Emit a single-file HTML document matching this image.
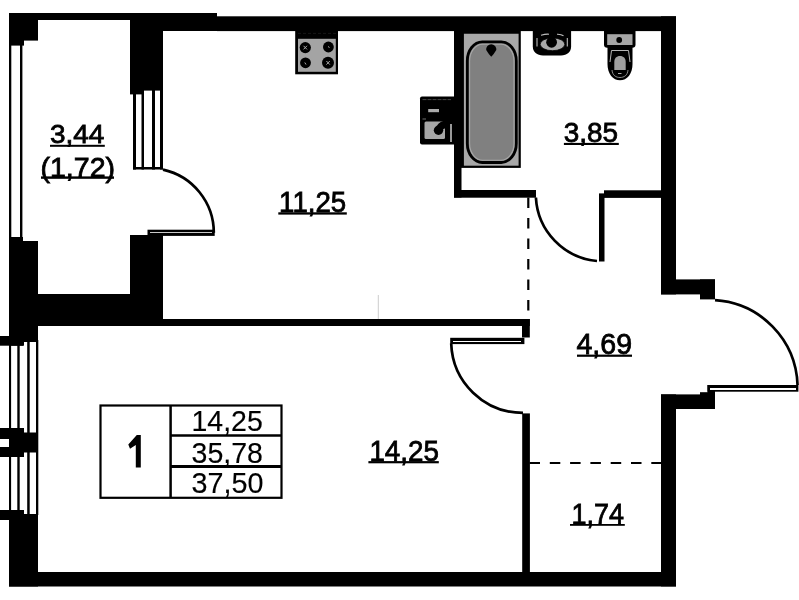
<!DOCTYPE html>
<html><head><meta charset="utf-8">
<style>
html,body{margin:0;padding:0;background:#fff;}
body{width:799px;height:600px;overflow:hidden;position:relative;}
svg{position:absolute;left:0;top:0;will-change:transform;}
</style></head><body>
<svg width="799" height="600" viewBox="0 0 799 600">
<g id="walls" fill="#000">
  <!-- top-left corner -->
  <rect x="9" y="13" width="29" height="27.6"/>
  <rect x="9" y="13" width="15" height="32.6"/>
  <rect x="9" y="13" width="121" height="7"/>
  <!-- balcony left window -->
  <rect x="9" y="40" width="2.3" height="200"/>
  <rect x="20" y="40" width="2.4" height="200"/>
  <!-- block between balcony & kitchen -->
  <rect x="130" y="13" width="33" height="77.6"/>
  <rect x="130" y="13" width="14" height="81.4"/>
  <rect x="133" y="90" width="3" height="79.5"/>
  <rect x="141.5" y="90" width="2.5" height="79.5"/>
  <rect x="152" y="90" width="3" height="79.5"/>
  <rect x="160" y="90" width="3" height="79.5"/>
  <rect x="133" y="167" width="30" height="2.5"/>
  <!-- top wall -->
  <rect x="130" y="13" width="87" height="18"/>
  <rect x="217" y="16.3" width="459" height="14.8"/>
  <!-- right wall -->
  <rect x="661" y="16.3" width="15" height="278.1"/>
  <rect x="661" y="279.4" width="54" height="15"/>
  <rect x="700" y="279.4" width="15" height="20"/>
  <rect x="661" y="394.4" width="54" height="14.6"/>
  <rect x="700" y="392.2" width="15" height="16"/>
  <rect x="707.5" y="385" width="7.5" height="10"/>
  <rect x="661" y="394.4" width="15" height="192"/>
  <!-- bottom wall -->
  <rect x="9" y="572" width="667" height="14.5"/>
  <!-- left side lower -->
  <rect x="9" y="237" width="14" height="108.7"/>
  <rect x="23" y="241" width="15" height="101"/>
  <rect x="0" y="336" width="24" height="9.7"/>
  <rect x="9" y="294" width="154" height="32"/>
  <rect x="130" y="235" width="33" height="91"/>
  <!-- lower-left window lines -->
  <rect x="9" y="340" width="2.1" height="175"/>
  <rect x="17.3" y="340" width="2.4" height="175"/>
  <rect x="27.2" y="340" width="2.5" height="175"/>
  <rect x="36" y="340" width="2.3" height="175"/>
  <!-- mullion -->
  <rect x="9" y="428" width="15" height="29"/>
  <rect x="24" y="432.5" width="14" height="20"/>
  <rect x="0" y="428" width="9" height="11"/>
  <rect x="0" y="447" width="9" height="10"/>
  <!-- lower-left bottom -->
  <rect x="0" y="510" width="24" height="10"/>
  <rect x="9" y="510" width="15" height="76.5"/>
  <rect x="24" y="514" width="14" height="72.5"/>
  <!-- kitchen / room wall -->
  <rect x="163" y="319" width="366.8" height="7"/>
  <rect x="522" y="319" width="7.8" height="18.5"/>
  <rect x="522.2" y="413.4" width="7.7" height="160"/>
  <!-- bathroom partitions -->
  <rect x="454" y="31" width="7.5" height="166.5"/>
  <rect x="454" y="190" width="82" height="7.7"/>
  <rect x="604" y="190.3" width="57.5" height="7.6"/>
  <rect x="599" y="193.4" width="5.5" height="68.1"/>
</g>
<!-- door leaves -->
<g fill="#000">
  <rect x="147.5" y="229.7" width="67.2" height="6.2"/>
  <rect x="450.2" y="337.8" width="74.2" height="6.3"/>
  <rect x="707.5" y="385" width="90.9" height="6.7"/>
</g>
<g fill="#fff">
  <rect x="150" y="232" width="62" height="1" fill="#c8c8c8"/>
  <rect x="453" y="341" width="68" height="1"/>
  <rect x="710" y="388" width="86" height="2"/>
</g>
<!-- arcs -->
<g fill="none" stroke="#000" stroke-width="2.7">
  <path d="M163,169.63 A64.67,64.67 0 0 1 213.82,232.8"/>
  <path d="M535.9,197.5 A67.38,67.38 0 0 0 597,261"/>
  <path d="M451.2,343.5 A71.88,71.88 0 0 0 523,412.93"/>
  <path d="M715,300.14 A88.15,88.15 0 0 1 797.56,385"/>
</g>
<!-- dashed -->
<g stroke="#000" stroke-width="2.2" fill="none">
  <path d="M528.3,197.5 V319" stroke-dasharray="10.5 10"/>
  <path d="M529.5,463 H661" stroke-dasharray="10.5 9.8"/>
</g>

<!-- stove -->
<g>
  <rect x="295.2" y="28" width="42.8" height="46.3" fill="#000"/>
  <rect x="298" y="38.8" width="37.8" height="33" fill="#a4a4a4"/>
  <line x1="298" y1="33.4" x2="336" y2="33.4" stroke="#1c1c1c" stroke-width="0.8" stroke-dasharray="3 2"/>
  <circle cx="305.3" cy="47.6" r="5.6" fill="#000"/>
  <circle cx="328.4" cy="47" r="5.4" fill="#000"/>
  <circle cx="305.5" cy="62.8" r="5.4" fill="#000"/>
  <circle cx="328" cy="62.8" r="6" fill="#000"/>
  <g stroke="#aaa" stroke-width="1">
    <path d="M303.5,45.8 L307,49.4 M307,45.8 L303.5,49.4"/>
    <path d="M326.4,61 L329.8,64.6 M329.8,61 L326.4,64.6"/>
    <path d="M304.8,62.5 L306,64.5"/>
    <path d="M328,46.5 L329.5,47.5"/>
  </g>
</g>
<!-- bathtub -->
<g>
  <rect x="460" y="28" width="60.8" height="139.9" fill="#000"/>
  <rect x="463.9" y="33.75" width="54.7" height="131.95" fill="#a8a8a8"/>
  <rect x="467.3" y="41.9" width="49" height="120.6" rx="15" ry="19" fill="#808080" stroke="#000" stroke-width="2.8"/>
  <rect x="469.6" y="44.2" width="44.4" height="116" rx="13" ry="17" fill="none" stroke="#a8a8a8" stroke-width="1.1"/>
  <path d="M486.2,50 A5.1,5.1 0 1 1 496.3,50 Q494,54 491.25,56.8 Q488.5,54 486.2,50 Z" fill="#000"/>
</g>
<!-- bath sink -->
<g>
  <path d="M532.8,28 H571.1 V46.6 C571.1,52 567,55.6 561,55.6 H543 C537,55.6 532.8,52 532.8,46.6 Z" fill="#000"/>
  <path d="M541,35.2 Q546,33.8 549,34.2 M557,34.2 Q561,34 563.5,35.8 M537,38 V46.5 M567.3,38 V46.5" stroke="#bdbdbd" stroke-width="1.1" fill="none"/>
  <ellipse cx="552.5" cy="44.3" rx="12.3" ry="6.4" fill="#a9a9a9"/>
  <ellipse cx="552.5" cy="44.3" rx="12.3" ry="6.4" fill="none" stroke="#000" stroke-width="0.8"/>
  <circle cx="551.6" cy="42.3" r="5.4" fill="#000"/>
</g>
<!-- toilet -->
<g>
  <rect x="604" y="28" width="31.5" height="19.8" rx="3.2" fill="#000"/>
  <rect x="607.2" y="34.2" width="25.3" height="10.8" fill="#a6a6a6"/>
  <circle cx="619.2" cy="40" r="2.9" fill="#000"/>
  <path d="M607.5,46 H632.5 V64 C632.5,74 627,80.3 620,80.3 C613,80.3 607.5,74 607.5,64 Z" fill="#000"/>
  <path d="M611.5,50.5 H628.5 L630,62" stroke="#b5b5b5" stroke-width="1" fill="none"/>
  <path d="M611.5,50.5 L610,62" stroke="#b5b5b5" stroke-width="1" fill="none"/>
  <path d="M614.3,70 V62 C614.3,58.2 616.5,56 620,56 C623.5,56 625.7,58.2 625.7,62 V70 Z" fill="#a0a0a0"/>
  <path d="M612,70 C612.5,75.5 616,77.5 620,77.5 C624,77.5 627.5,75.5 628,70" stroke="#9a9a9a" stroke-width="0.9" fill="none"/>
  <path d="M618,73.5 H621.5" stroke="#aaa" stroke-width="1"/>
</g>
<!-- kitchen sink -->
<g>
  <rect x="420" y="96.5" width="36" height="48" rx="2" fill="#000"/>
  <line x1="422.5" y1="99.6" x2="451" y2="99.6" stroke="#555" stroke-width="0.8" stroke-dasharray="4 1"/>
  <rect x="428.2" y="109" width="10.8" height="3.2" fill="#aaa"/>
  <line x1="422.5" y1="119" x2="426" y2="119" stroke="#888" stroke-width="0.8"/>
  <rect x="424.5" y="121.5" width="20.5" height="17.5" rx="1.5" fill="#a6a6a6"/>
  <circle cx="438.5" cy="130.2" r="4.7" fill="#000"/>
  <path d="M437,125.5 Q440,121 446,120.5 V128 Q443,128.5 442,131 Z" fill="#000"/>
  <rect x="450" y="124" width="2" height="18" fill="#999"/>
</g>
<!-- faint mark -->
<line x1="378.3" y1="295" x2="378.3" y2="319" stroke="#aaa" stroke-width="0.6"/>

<g font-family="Liberation Sans" fill="#000" stroke="#000" stroke-width="0.8" lengthAdjust="spacingAndGlyphs">
  <text x="49.9" y="143" font-size="26.41" textLength="54.3" lengthAdjust="spacingAndGlyphs">3,44</text>
  <text x="40.5" y="177" font-size="28.00" textLength="74.5" lengthAdjust="spacingAndGlyphs">(1,72)</text>
  <text x="279.1" y="212" font-size="28.73" textLength="67.1" lengthAdjust="spacingAndGlyphs">11,25</text>
  <text x="563.8" y="142" font-size="27.56" textLength="54.3" lengthAdjust="spacingAndGlyphs">3,85</text>
  <text x="576.5" y="354" font-size="28.60" textLength="55.5" lengthAdjust="spacingAndGlyphs">4,69</text>
  <text x="369.4" y="461" font-size="28.90" textLength="69.5" lengthAdjust="spacingAndGlyphs">14,25</text>
  <text x="571.5" y="524" font-size="28.73" textLength="52.5" lengthAdjust="spacingAndGlyphs">1,74</text>
</g>
<g font-family="Liberation Sans" fill="#000" stroke="#000" stroke-width="0.15">
  <text x="191.5" y="431" font-size="28.60" textLength="71.3" lengthAdjust="spacingAndGlyphs">14,25</text>
  <text x="191.6" y="463" font-size="29.93" textLength="71.3" lengthAdjust="spacingAndGlyphs">35,78</text>
  <text x="191.6" y="493" font-size="29.60" textLength="71.9" lengthAdjust="spacingAndGlyphs">37,50</text>
</g>
<g fill="#000">
  <rect x="50" y="144.8" width="54.8" height="2"/>
  <rect x="41" y="176.4" width="73" height="2.4"/>
  <rect x="278.3" y="212.3" width="68.5" height="2.3"/>
  <rect x="563.9" y="142.9" width="54.9" height="2.1"/>
  <rect x="577" y="354.6" width="55" height="2.2"/>
  <rect x="368.4" y="461.1" width="70.4" height="2.2"/>
  <rect x="570" y="524" width="54.8" height="1.8"/>
  <path d="M136.8,435 H140.8 V467.5 H135.8 V445 L130,448.8 L128.3,444.6 Z"/>
</g>
<!-- table -->
<g fill="none" stroke="#000">
  <rect x="100.5" y="405.5" width="181" height="92.3" stroke-width="2.2"/>
  <line x1="170.6" y1="405" x2="170.6" y2="498" stroke-width="2.5"/>
  <line x1="170" y1="435.6" x2="282" y2="435.6" stroke-width="2.5"/>
  <line x1="170" y1="466.5" x2="282" y2="466.5" stroke-width="2.8"/>
</g>
</svg>
</body></html>
